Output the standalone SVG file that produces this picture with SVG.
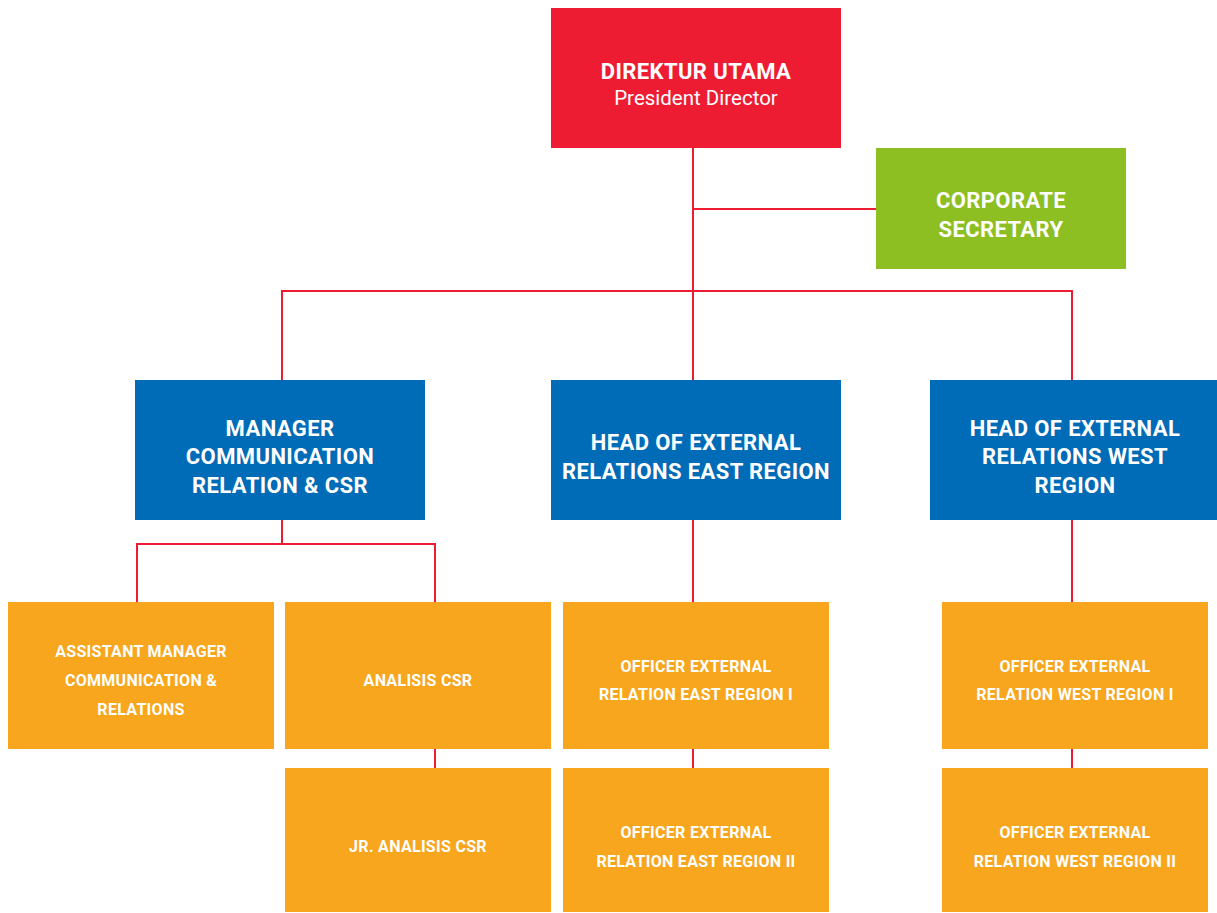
<svg xmlns="http://www.w3.org/2000/svg" width="1217" height="913" viewBox="0 0 1217 913">
  <style>
    .red { fill: #ED1C33; }
    .green { fill: #8DBE22; }
    .blue { fill: #006BB6; }
    .orange { fill: #F8A61D; }
    text { fill: #FFFFFF; font-family: Roboto, "Liberation Sans", sans-serif; text-anchor: middle; }
    .t1 { font-size: 22px; font-weight: 700; letter-spacing: 0.4px; }
    .t1r { font-size: 20.5px; font-weight: 400; }
    .t3 { font-size: 16px; font-weight: 700; letter-spacing: 0.3px; }
    .conn { stroke: #ED1C33; stroke-width: 2; fill: none; }
  </style>
  <rect width="1217" height="913" fill="#FFFFFF"/>

  <g id="connectors">
    <path class="conn" d="M693 148 V380"/>
    <path class="conn" d="M693 209 H876"/>
    <path class="conn" d="M282 380 V291 H1072 V380"/>
    <path class="conn" d="M282 520 V544"/>
    <path class="conn" d="M137 602 V544 H435 V602"/>
    <path class="conn" d="M435 749 V768"/>
    <path class="conn" d="M693 520 V602"/>
    <path class="conn" d="M693 749 V768"/>
    <path class="conn" d="M1072 520 V602"/>
    <path class="conn" d="M1072 749 V768"/>
  </g>

  <g id="president-director">
    <rect class="red" x="551" y="8" width="290" height="140"/>
    <text class="t1" x="696" y="79">DIREKTUR UTAMA</text>
    <text class="t1r" x="696" y="105">President Director</text>
  </g>

  <g id="corporate-secretary">
    <rect class="green" x="876" y="148" width="250" height="121"/>
    <text class="t1" x="1001" y="208">CORPORATE</text>
    <text class="t1" x="1001" y="237">SECRETARY</text>
  </g>

  <g id="manager-communication">
    <rect class="blue" x="135" y="380" width="290" height="140"/>
    <text class="t1" x="280" y="436">MANAGER</text>
    <text class="t1" x="280" y="464">COMMUNICATION</text>
    <text class="t1" x="280" y="493">RELATION &amp; CSR</text>
  </g>

  <g id="head-east">
    <rect class="blue" x="551" y="380" width="290" height="140"/>
    <text class="t1" x="696" y="450">HEAD OF EXTERNAL</text>
    <text class="t1" x="696" y="479">RELATIONS EAST REGION</text>
  </g>

  <g id="head-west">
    <rect class="blue" x="930" y="380" width="287" height="140"/>
    <text class="t1" x="1075" y="436">HEAD OF EXTERNAL</text>
    <text class="t1" x="1075" y="464">RELATIONS WEST</text>
    <text class="t1" x="1075" y="493">REGION</text>
  </g>

  <g id="assistant-manager">
    <rect class="orange" x="8" y="602" width="266" height="147"/>
    <text class="t3" x="141" y="657">ASSISTANT MANAGER</text>
    <text class="t3" x="141" y="686">COMMUNICATION &amp;</text>
    <text class="t3" x="141" y="715">RELATIONS</text>
  </g>

  <g id="analisis-csr">
    <rect class="orange" x="285" y="602" width="266" height="147"/>
    <text class="t3" x="418" y="686">ANALISIS CSR</text>
  </g>

  <g id="jr-analisis-csr">
    <rect class="orange" x="285" y="768" width="266" height="144"/>
    <text class="t3" x="418" y="852">JR. ANALISIS CSR</text>
  </g>

  <g id="officer-east-1">
    <rect class="orange" x="563" y="602" width="266" height="147"/>
    <text class="t3" x="696" y="672">OFFICER EXTERNAL</text>
    <text class="t3" x="696" y="700">RELATION EAST REGION I</text>
  </g>

  <g id="officer-east-2">
    <rect class="orange" x="563" y="768" width="266" height="144"/>
    <text class="t3" x="696" y="838">OFFICER EXTERNAL</text>
    <text class="t3" x="696" y="867">RELATION EAST REGION II</text>
  </g>

  <g id="officer-west-1">
    <rect class="orange" x="942" y="602" width="266" height="147"/>
    <text class="t3" x="1075" y="672">OFFICER EXTERNAL</text>
    <text class="t3" x="1075" y="700">RELATION WEST REGION I</text>
  </g>

  <g id="officer-west-2">
    <rect class="orange" x="942" y="768" width="266" height="144"/>
    <text class="t3" x="1075" y="838">OFFICER EXTERNAL</text>
    <text class="t3" x="1075" y="867">RELATION WEST REGION II</text>
  </g>
</svg>
